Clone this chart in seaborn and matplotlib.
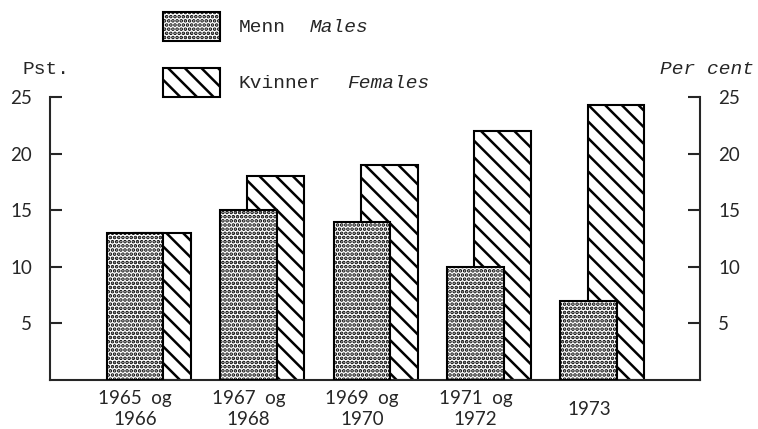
import numpy as np
import pandas as pd
import matplotlib
matplotlib.use("Agg")
import matplotlib.pyplot as plt
from matplotlib.patches import Rectangle
import seaborn as sns

# data
periods = ["1965  og\n1966", "1967  og\n1968", "1969  og\n1970", "1971  og\n1972", "1973"]
males = [13, 15, 14, 10, 7]
females = [13, 18, 19, 22, 24.3]
yticks = [5, 10, 15, 20, 25]

sns.set_style("ticks")
plt.rcParams["font.family"] = ["Lato", "DejaVu Sans"]
plt.rcParams["hatch.linewidth"] = 1.8
plt.rcParams["hatch.color"] = "black"

idx = np.arange(len(periods))
dfm = pd.DataFrame({"pos": idx.astype(float), "val": males})
dff = pd.DataFrame({"pos": idx + 0.24, "val": females})

fig = plt.figure(figsize=(7.58, 4.29), dpi=100)
ax = fig.add_axes([50 / 758, 49 / 429, 650 / 758, 283 / 429])

# females behind, males in front
sns.barplot(data=dff, x="pos", y="val", native_scale=True, orient="x", width=0.5,
            color="white", saturation=1, edgecolor="black", linewidth=1.5,
            hatch="\\\\", errorbar=None, ax=ax, zorder=2)
sns.barplot(data=dfm, x="pos", y="val", native_scale=True, orient="x", width=0.5,
            color="white", saturation=1, edgecolor="black", linewidth=1.5,
            hatch="....", errorbar=None, ax=ax, zorder=3)

ax.set_xlim(-0.75, 4.98)
ax.set_ylim(0, 25)
ax.set_xlabel(""); ax.set_ylabel("")
ax.set_xticks(idx)
ax.set_xticklabels(periods, fontsize=13.5, linespacing=1.25)
for lb in ax.get_xticklabels():
    lb.set_verticalalignment("center"); lb.set_multialignment("center")
ax.tick_params(axis="x", length=0, pad=21)
ax.set_yticks(yticks)
ax.set_yticklabels([str(v) for v in yticks])
ax.tick_params(axis="y", direction="in", length=8.5, width=1.5, labelsize=13.5,
               right=True, labelright=True, pad=13)
for s in ["left", "right", "bottom"]:
    ax.spines[s].set_linewidth(1.5)
ax.spines["top"].set_visible(False)

mono = ["Liberation Mono", "DejaVu Sans Mono"]
fig.text(22 / 758, 1 - 70 / 429, "Pst.", family=mono, fontsize=14, va="center")
fig.text(660 / 758, 1 - 70 / 429, "Per cent", family=mono, style="italic", fontsize=14, va="center")

# legend
for y0, hatch, lab, eng, ex in [(12, "....", "Menn", "Males", 310), (68, "\\\\", "Kvinner", "Females", 347)]:
    fig.add_artist(Rectangle((163 / 758, 1 - (y0 + 29) / 429), 57 / 758, 29 / 429,
                             transform=fig.transFigure, facecolor="white",
                             edgecolor="black", linewidth=1.5, hatch=hatch))
    yc = 1 - (y0 + 15) / 429
    fig.text(239 / 758, yc, lab, family=mono, fontsize=14, va="center")
    fig.text(ex / 758, yc, eng, family=mono, style="italic", fontsize=14, va="center")

fig.savefig("out.png", dpi=100)
